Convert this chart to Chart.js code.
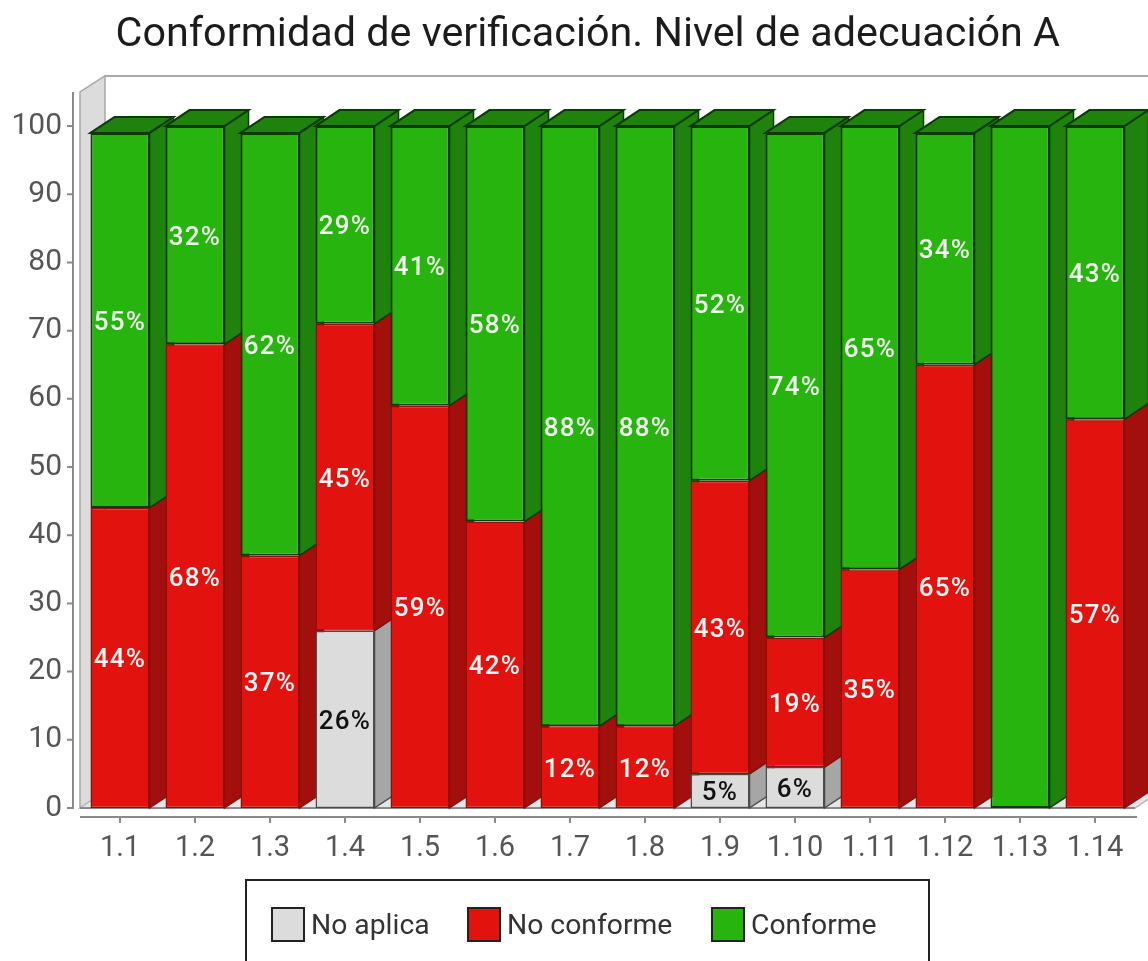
<!DOCTYPE html>
<html><head><meta charset="utf-8">
<style>html,body{margin:0;padding:0;background:#fff;overflow:hidden}canvas{display:block}</style>
<script src="https://cdn.jsdelivr.net/npm/chart.js@4"></script>
</head><body><canvas id="c" width="1148" height="961"></canvas>
<script>
const categories = ['1.1','1.2','1.3','1.4','1.5','1.6','1.7','1.8','1.9','1.10','1.11','1.12','1.13','1.14'];
const noAplica   = [null,null,null,26,null,null,null,null,5,6,null,null,null,null];
const noConforme = [44,68,37,45,59,42,12,12,43,19,35,65,null,57];
const conforme   = [55,32,62,29,41,58,88,88,52,74,65,34,100,43];
const seriesNames = ['No aplica','No conforme','Conforme'];
const yTicks = [0,10,20,30,40,50,60,70,80,90,100];

const DX = 24, DY = -16;
const faces = [
  {front:'#dcdcdc', side:'#a6a6a6', top:'#bdbdbd', edge:'#4a4a4a', text:'#111111'},
  {front:'#e2130f', side:'#a30f0d', top:'#b01010', edge:'#8c0f0c', text:'#f6f6f6'},
  {front:'#27b40e', side:'#1f820c', top:'#1f820c', edge:'#0c3a08', text:'#f2f8f0'}
];
function poly(ctx, pts, fill, stroke, lw){
  ctx.beginPath();
  pts.forEach((p,i)=> i?ctx.lineTo(p[0],p[1]):ctx.moveTo(p[0],p[1]));
  ctx.closePath();
  if(fill){ctx.fillStyle=fill;ctx.fill();}
  if(stroke){ctx.strokeStyle=stroke;ctx.lineWidth=lw||1;ctx.stroke();}
}
const scene = {
  id:'scene',
  afterLayout(chart){ chart.scales.y.left = 0; },
  beforeDatasetsDraw(chart){
    const ctx=chart.ctx, y=chart.scales.y, x=chart.scales.x;
    const y0=y.getPixelForValue(0), yTop=y.top, L=80, R=1135;
    ctx.save();
    poly(ctx,[[L,y0],[L+DX+1,y0+DY],[L+DX+1,yTop+DY],[L,yTop]],'#dcdcdc','#a8a8a8',1.5);
    poly(ctx,[[L,y0],[R,y0],[R+DX,y0+DY],[L+DX,y0+DY]],'#e6e6e6','#b8b8b8',1.5);
    ctx.strokeStyle='#a8a8a8';ctx.lineWidth=2;
    ctx.beginPath();ctx.moveTo(L+DX,yTop+DY);ctx.lineTo(1148,yTop+DY);ctx.stroke();
    ctx.strokeStyle='#8a8a8a';ctx.lineWidth=2;
    ctx.beginPath();ctx.moveTo(L,y0);ctx.lineTo(R,y0);ctx.stroke();
    ctx.beginPath();ctx.moveTo(73,yTop);ctx.lineTo(73,y0+1);
    y.ticks.forEach(t=>{const p=y.getPixelForValue(t.value);ctx.moveTo(67,p);ctx.lineTo(73,p);});
    ctx.moveTo(L,817);ctx.lineTo(1137,817);
    categories.forEach((c,i)=>{const p=x.getPixelForValue(i);ctx.moveTo(p,817);ctx.lineTo(p,823);});
    ctx.stroke();
    categories.forEach((c,j)=>{
      let last=null;
      chart.data.datasets.forEach((d,k)=>{
        if(d.data[j]==null) return;
        const el=chart.getDatasetMeta(k).data[j];
        const r=el.x+el.width/2;
        poly(ctx,[[r,el.base],[r+DX,el.base+DY],[r+DX,el.y+DY],[r,el.y]],faces[k].side,faces[k].edge,1.5);
        last={el,k};
      });
      if(last){
        const {el,k}=last, l=el.x-el.width/2, r=el.x+el.width/2;
        poly(ctx,[[l,el.y],[l+DX,el.y+DY],[r+DX,el.y+DY],[r,el.y]],faces[k].top,faces[k].edge,2);
      }
    });
    ctx.restore();
  },
  afterDatasetsDraw(chart){
    const ctx=chart.ctx;
    ctx.save();
    ctx.textAlign='center';ctx.textBaseline='middle';
    ctx.font='500 26px Roboto';
    ctx.letterSpacing='1.3px';
    chart.data.datasets.forEach((d,k)=>{
      d.data.forEach((v,j)=>{
        if(v==null||v>=100) return;
        const el=chart.getDatasetMeta(k).data[j];
        ctx.fillStyle=faces[k].text;
        ctx.fillText(v+'%',el.x,(el.y+el.base)/2+3);
      });
    });
    ctx.letterSpacing='0px';
    ctx.strokeStyle='#222';ctx.lineWidth=2;
    ctx.strokeRect(246,880,683,95);
    const sx=[272,468,712], tx=[311,507,751];
    ctx.textAlign='left';ctx.font='28.3px Roboto';
    chart.data.datasets.forEach((d,k)=>{
      ctx.fillStyle=faces[k].front;ctx.fillRect(sx[k],908,32,33);
      ctx.strokeStyle='#222';ctx.lineWidth=2;ctx.strokeRect(sx[k],908,32,33);
      ctx.fillStyle='#333';ctx.fillText(d.label,tx[k],927);
    });
    ctx.restore();
  }
};
const ds=(label,data,k)=>({label,data,backgroundColor:faces[k].front,borderColor:faces[k].edge,borderWidth:k===2?2:1.5,borderSkipped:false,barPercentage:0.787,categoryPercentage:1});
new Chart(document.getElementById('c'),{
  type:'bar',
  data:{labels:categories,datasets:[ds(seriesNames[0],noAplica,0),ds(seriesNames[1],noConforme,1),ds(seriesNames[2],conforme,2)]},
  options:{
    responsive:false,animation:false,
    layout:{padding:{left:43,right:15.5,top:0,bottom:0}},
    plugins:{
      legend:{display:false},tooltip:{enabled:false},
      title:{display:true,text:'Conformidad de verificación. Nivel de adecuación A',color:'#1c1c1c',
        font:{family:'Roboto',size:41.3,weight:'normal',lineHeight:1.2},padding:{top:11,bottom:31.4}}
    },
    scales:{
      x:{stacked:true,grid:{display:false,drawTicks:false},border:{display:false},
        ticks:{color:'#555',font:{family:'Roboto',size:29},padding:23,maxRotation:0,autoSkip:false},
        afterFit(s){s.height=153;}},
      y:{stacked:true,min:0,max:105,grid:{display:false,drawTicks:false},border:{display:false},
        afterBuildTicks(s){s.ticks=yTicks.map(v=>({value:v}));},
        ticks:{color:'#555',font:{family:'Roboto',size:30},padding:20.5,includeBounds:false,stepSize:10},
        afterFit(s){s.width=39.5;}}
    }
  },
  plugins:[scene]
});
</script></body></html>
